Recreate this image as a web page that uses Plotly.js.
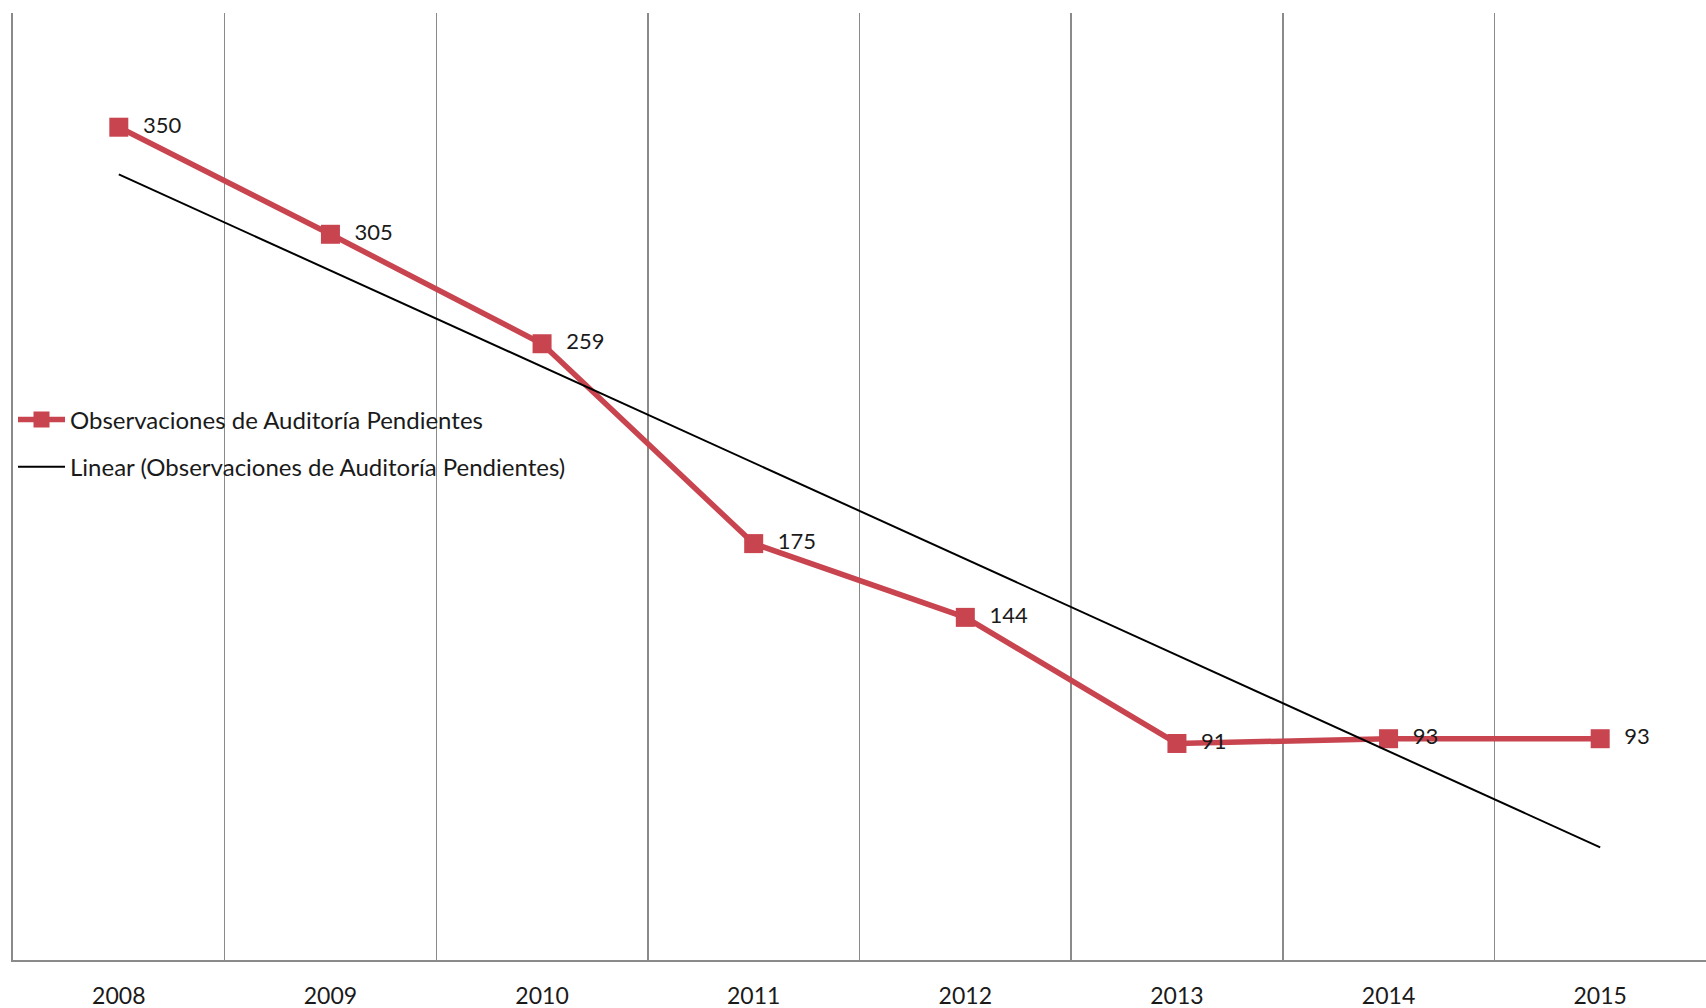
<!DOCTYPE html>
<html>
<head>
<meta charset="utf-8">
<script src="https://cdn.plot.ly/plotly-3.0.1.min.js"></script>
<style>
  html, body { margin: 0; padding: 0; background: #ffffff; }
  #chart { width: 1706px; height: 1008px; }
</style>
</head>
<body>
<div id="chart"></div>
<script>
// ---- Data ----
const years = ["2008", "2009", "2010", "2011", "2012", "2013", "2014", "2015"];
const pendientes = [350, 305, 259, 175, 144, 91, 93, 93];
const seriesName = "Observaciones de Auditoría Pendientes";
const trendName = "Linear (Observaciones de Auditoría Pendientes)";

// Linear trendline (least squares fit of the series, as the spreadsheet does)
const n = pendientes.length;
const xs = pendientes.map((_, i) => i + 1);
const mx = xs.reduce((a, b) => a + b, 0) / n;
const my = pendientes.reduce((a, b) => a + b, 0) / n;
let sxy = 0, sxx = 0;
for (let i = 0; i < n; i++) { sxy += (xs[i] - mx) * (pendientes[i] - my); sxx += (xs[i] - mx) ** 2; }
const slope = sxy / sxx;
const intercept = my - slope * mx;
const trendY = [intercept + slope * xs[0], intercept + slope * xs[n - 1]];
const trendX = [years[0], years[n - 1]];

const FONT = "Lato, Carlito, 'Liberation Sans', sans-serif";
const PAD = "\u00a0\u00a0";

const traces = [
  {
    type: "scatter",
    mode: "lines+markers+text",
    name: seriesName,
    legendgroup: "a",
    x: years,
    y: pendientes,
    text: pendientes.map(v => PAD + v),
    textposition: "middle right",
    textfont: { family: FONT, size: 22, color: "#1a1a1a" },
    line: { color: "#C8444F", width: 5.5 },
    marker: { symbol: "square", size: 19, color: "#C8444F" },
    cliponaxis: false
  },
  {
    type: "scatter",
    mode: "lines",
    name: trendName,
    legendgroup: "b",
    x: trendX,
    y: trendY,
    line: { color: "#000000", width: 2 }
  }
];

const layout = {
  width: 1706,
  height: 1008,
  margin: { l: 13, r: 0, t: 13, b: 48 },
  paper_bgcolor: "#ffffff",
  plot_bgcolor: "#ffffff",
  font: { family: FONT, size: 22, color: "#1a1a1a" },
  showlegend: true,
  legend: {
    x: 0, xanchor: "left",
    y: 0.594, yanchor: "top",
    bgcolor: "rgba(0,0,0,0)",
    font: { family: FONT, size: 24, color: "#1a1a1a" },
    itemwidth: 47,
    traceorder: "grouped",
    tracegroupgap: 13
  },
  xaxis: {
    type: "category",
    range: [-0.5, 7.5],
    tickson: "boundaries",
    showgrid: true,
    gridcolor: "#8a8a8a",
    gridwidth: 1.5,
    showline: true,
    linecolor: "#8a8a8a",
    linewidth: 2,
    ticks: "",
    ticklabelstandoff: 14,
    tickfont: { family: FONT, size: 23, color: "#1a1a1a" },
    zeroline: false,
    fixedrange: true
  },
  yaxis: {
    range: [0, 398],
    showgrid: false,
    showticklabels: false,
    showline: true,
    linecolor: "#8a8a8a",
    linewidth: 2,
    zeroline: false,
    ticks: "",
    fixedrange: true
  }
};

Plotly.newPlot("chart", traces, layout, { displayModeBar: false, staticPlot: true });
</script>
</body>
</html>
